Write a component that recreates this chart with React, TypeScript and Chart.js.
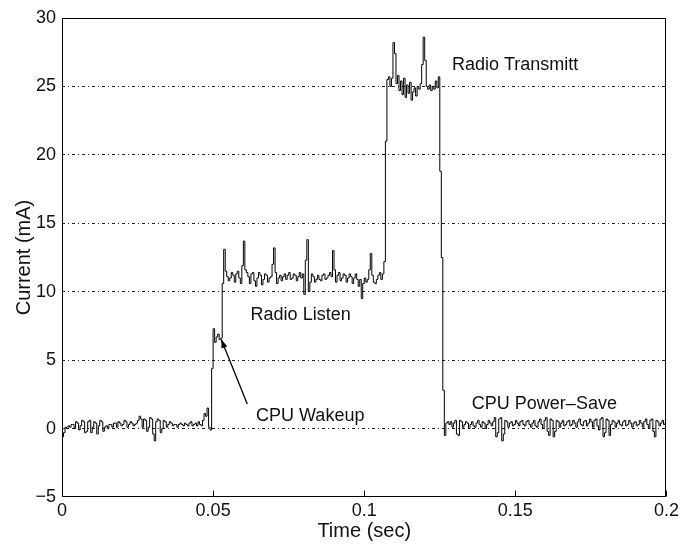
import { useEffect, useRef } from 'react';
import { Chart, registerables } from 'chart.js';

Chart.register(...registerables);

// Supply current of a sensor node over one duty cycle, sampled every 0.5 ms.
const SAMPLE_PERIOD = 0.0005; // seconds between samples

// CPU idle before wakeup (0 – 0.0495 s)
const idleCurrent = [
  0.0, -0.6, -0.3, 0.1, 0.0, 0.2, 0.1, 0.3, 0.3, 0.0,
  0.5, 0.4, -0.1, 0.2, 0.6, 0.5, -0.3, -0.2, 0.5, 0.6,
  -0.3, 0.1, 0.5, 0.4, -0.4, 0.2, 0.6, 0.5, -0.2, 0.1,
  0.2, 0.0, 0.3, 0.3, 0.1, 0.4, 0.4, 0.1, 0.5, 0.4,
  0.2, 0.3, 0.6, 0.5, 0.1, 0.3, 0.5, 0.4, 0.2, 0.3,
  0.4, 0.6, 0.9, 0.7, 0.1, 0.7, 0.6, -0.2, 0.1, 0.8,
  0.7, -0.4, -0.9, 0.5, 0.7, 0.6, -0.3, 0.0, 0.6, 0.5,
  0.1, 0.3, 0.5, 0.4, 0.2, 0.3, 0.3, 0.1, 0.3, 0.4,
  0.3, 0.2, 0.4, 0.3, 0.2, 0.4, 0.5, 0.2, 0.3, 0.4,
  0.2, 0.5, 0.3, 0.2, 0.6, 1.1, 0.9, 1.5, 0.1, -0.1,
];

// CPU wakeup (0.05 – 0.053 s)
const wakeupCurrent = [4.4, 7.3, 6.3, 6.7, 6.9, 6.5, 6.6];

// Radio listening (0.0535 – 0.1065 s)
const listenCurrent = [
  10.6, 13.1, 11.5, 11.1, 10.8, 11.0, 11.4, 11.2, 10.7, 11.3,
  11.5, 11.0, 10.6, 11.9, 13.7, 11.6, 11.4, 11.1, 10.6, 11.3,
  11.4, 10.8, 10.4, 11.0, 11.4, 11.2, 10.5, 10.9, 11.3, 11.2,
  10.7, 11.0, 11.1, 12.0, 13.2, 11.4, 10.6, 11.0, 11.2, 10.8,
  11.1, 11.3, 10.9, 11.2, 11.4, 10.9, 11.0, 11.3, 11.2, 10.8,
  11.1, 11.4, 11.0, 11.3, 9.8, 12.3, 13.8, 10.0, 10.7, 11.3,
  11.1, 10.7, 10.9, 11.2, 10.9, 10.8, 11.2, 11.3, 10.9, 11.0,
  11.2, 11.4, 11.1, 13.0, 11.6, 10.7, 11.2, 11.4, 10.8, 11.0,
  11.3, 11.2, 10.7, 11.0, 11.3, 11.1, 10.6, 11.0, 11.3, 10.9,
  10.4, 10.9, 9.5, 10.6, 11.0, 10.7, 10.9, 11.6, 12.8, 11.2,
  10.7, 10.6, 10.9, 11.2, 11.4, 10.9, 11.3,
];

// Radio transmitting (0.107 – 0.127 s)
const transmitCurrent = [
  12.2, 21.0, 25.5, 25.7, 25.0, 25.6, 28.2, 27.4, 25.2, 25.8,
  24.7, 25.4, 24.4, 25.6, 24.2, 25.1, 24.5, 25.3, 24.0, 24.6,
  24.9, 24.3, 25.0, 24.8, 25.2, 26.6, 28.6, 26.9, 25.0, 24.8,
  25.1, 24.7, 25.0, 24.8, 25.4, 24.9, 25.7, 18.8, 12.5, 2.8,
  -0.5,
];

// CPU power-save (0.1275 – 0.2 s)
const powerSaveCurrent = [
  0.4, 0.5, 0.3, 0.5, 0.1, 0.4, 0.6, -0.4, -0.5, 0.6,
  0.5, 0.1, 0.3, 0.5, 0.4, 0.0, 0.3, 0.5, 0.2, 0.1,
  0.4, 0.6, 0.3, 0.1, 0.5, 0.4, 0.0, 0.3, 0.6, 0.4,
  0.2, 0.5, 0.8, -0.6, -0.3, 0.7, 0.8, -0.9, -0.4, 0.6,
  0.5, 0.1, 0.4, 0.5, 0.2, 0.3, 0.6, 0.4, 0.2, 0.5,
  0.6, 0.3, 0.2, 0.5, 0.6, 0.3, 0.1, 0.4, 0.6, 0.2,
  0.1, 0.5, 0.7, 0.3, 0.0, 0.6, 0.8, -0.2, -0.5, 0.7,
  0.6, -0.6, -0.2, 0.6, 0.5, 0.1, 0.4, 0.6, 0.2, 0.3,
  0.5, 0.6, 0.2, 0.3, 0.6, 0.4, 0.1, 0.5, 0.7, 0.3,
  0.2, 0.5, 0.6, 0.2, 0.4, 0.7, 0.5, 0.1, 0.6, 0.7,
  0.2, -0.1, 0.7, 0.8, -0.6, -0.3, 0.7, 0.6, -0.5, 0.3,
  0.6, 0.5, 0.1, 0.4, 0.6, 0.3, 0.2, 0.5, 0.6, 0.2,
  0.3, 0.6, 0.4, 0.1, 0.4, 0.5, 0.2, 0.3, 0.6, 0.4,
  0.1, 0.5, 0.7, 0.3, 0.0, 0.6, 0.7, -0.2, -0.6, 0.6,
  0.5, 0.2, 0.4, 0.6, 0.3, 0.4,
];

const xTickLabels = ['0', '0.05', '0.1', '0.15', '0.2'];
const yTickLabels = ['\u22125', '0', '5', '10', '15', '20', '25', '30'];

// Phase labels placed in data coordinates (time s, current mA)
const phaseLabels = [
  { text: 'Radio Transmitt', t: 0.129, mA: 26.6 },
  { text: 'Radio Listen', t: 0.0624, mA: 8.3 },
  { text: 'CPU Wakeup', t: 0.0642, mA: 0.9 },
  { text: 'CPU Power\u2013Save', t: 0.1356, mA: 1.8 },
];
const wakeupArrow = { fromT: 0.0613, fromMA: 1.8, toT: 0.0527, toMA: 6.5 };

const FONT = '"Liberation Sans", Arial, Helvetica, sans-serif';

const framePlugin = {
  id: 'matlabFrame',
  afterDraw(chart: any) {
    const { ctx, chartArea: a, scales } = chart;
    const xs = scales.x;
    const ys = scales.y;
    ctx.save();
    ctx.strokeStyle = '#000';
    ctx.lineWidth = 1;
    const L = Math.round(a.left) + 0.5;
    const R = Math.round(a.right) - 0.5;
    const T = Math.round(a.top) + 0.5;
    const B = Math.round(a.bottom) - 0.5;
    ctx.strokeRect(L, T, R - L, B - T);
    // inward tick marks on the time axis
    ctx.beginPath();
    for (const tk of xs.ticks) {
      const px = Math.round(xs.getPixelForValue(tk.value)) + 0.5;
      ctx.moveTo(px, B);
      ctx.lineTo(px, B - 6);
    }
    ctx.stroke();

    // phase labels
    ctx.fillStyle = '#111';
    ctx.font = `18px ${FONT}`;
    ctx.textAlign = 'left';
    ctx.textBaseline = 'middle';
    for (const p of phaseLabels) {
      ctx.fillText(p.text, xs.getPixelForValue(p.t), ys.getPixelForValue(p.mA));
    }

    // arrow pointing to the wakeup peak
    const x0 = xs.getPixelForValue(wakeupArrow.fromT);
    const y0 = ys.getPixelForValue(wakeupArrow.fromMA);
    const x1 = xs.getPixelForValue(wakeupArrow.toT);
    const y1 = ys.getPixelForValue(wakeupArrow.toMA);
    ctx.lineWidth = 1.3;
    ctx.beginPath();
    ctx.moveTo(x0, y0);
    ctx.lineTo(x1, y1);
    ctx.stroke();
    const ang = Math.atan2(y1 - y0, x1 - x0);
    const hl = 9;
    const hw = 0.35;
    ctx.beginPath();
    ctx.moveTo(x1, y1);
    ctx.lineTo(x1 - hl * Math.cos(ang - hw), y1 - hl * Math.sin(ang - hw));
    ctx.lineTo(x1 - hl * Math.cos(ang + hw), y1 - hl * Math.sin(ang + hw));
    ctx.closePath();
    ctx.fillStyle = '#000';
    ctx.fill();
    ctx.restore();
  },
};

export default function App() {
  const ref = useRef<HTMLCanvasElement>(null);

  useEffect(() => {
    const canvas = ref.current;
    if (!canvas) return;
    const samples = [idleCurrent, wakeupCurrent, listenCurrent, transmitCurrent, powerSaveCurrent]
      .flat()
      .map((mA, i) => ({ x: i * SAMPLE_PERIOD, y: mA }));

    const chart = new Chart(canvas, {
      type: 'line',
      data: {
        datasets: [
          {
            data: samples,
            borderColor: '#000',
            borderWidth: 1,
            pointRadius: 0,
            stepped: 'after',
            tension: 0,
            fill: false,
          },
        ],
      },
      options: {
        responsive: false,
        animation: false,
        events: [],
        layout: { padding: { top: 18, right: 14, left: 0, bottom: 0 } },
        plugins: { legend: { display: false }, tooltip: { enabled: false } },
        scales: {
          x: {
            type: 'linear',
            min: 0,
            max: 0.2,
            afterFit: (s: any) => {
              s.height = 49;
            },
            afterBuildTicks: (s: any) => {
              s.ticks = xTickLabels.map((_, i) => ({ value: i * 0.05 }));
            },
            ticks: {
              color: '#111',
              padding: 3,
              maxRotation: 0,
              font: { family: FONT, size: 18 },
              callback: (_v: any, i: number) => xTickLabels[i],
            },
            grid: { display: false, drawTicks: false },
            border: { display: false },
            title: {
              display: true,
              text: 'Time (sec)',
              color: '#111',
              font: { family: FONT, size: 20 },
              padding: { top: 0, bottom: 3 },
            },
          },
          y: {
            type: 'linear',
            min: -5,
            max: 30,
            afterFit: (s: any) => {
              s.width = 62;
            },
            afterBuildTicks: (s: any) => {
              s.ticks = yTickLabels.map((_, i) => ({ value: -5 + i * 5 }));
            },
            ticks: {
              color: '#111',
              padding: 6,
              font: { family: FONT, size: 18 },
              callback: (_v: any, i: number) => yTickLabels[i],
            },
            grid: {
              drawTicks: false,
              lineWidth: 1,
              color: (c: any) =>
                c.tick && (c.tick.value <= -5 || c.tick.value >= 30) ? 'rgba(0,0,0,0)' : '#222',
            },
            border: { display: false, dash: [3, 3, 1, 3] },
            title: {
              display: true,
              text: 'Current (mA)',
              color: '#111',
              font: { family: FONT, size: 20 },
              padding: { top: 12, bottom: 0 },
            },
          },
        },
      },
      plugins: [framePlugin],
    });
    return () => chart.destroy();
  }, []);

  return (
    <div style={{ position: 'fixed', left: 0, top: 0, width: 682, height: 546, background: '#fff' }}>
      <canvas ref={ref} width={682} height={546} style={{ display: 'block' }} />
    </div>
  );
}
